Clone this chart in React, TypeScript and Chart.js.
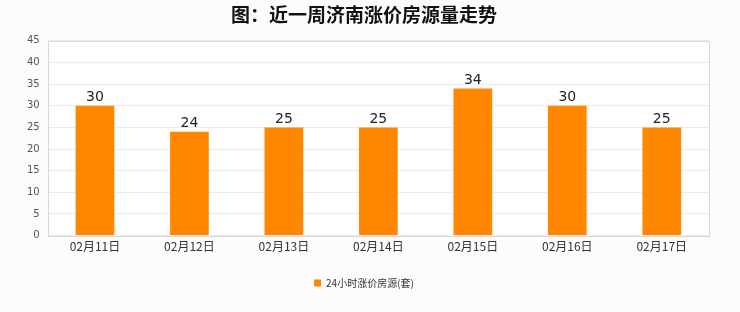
import React, { useEffect, useRef } from "react";
import { Chart, registerables } from "chart.js";

Chart.register(...registerables);

const categories = ["02月11日", "02月12日", "02月13日", "02月14日", "02月15日", "02月16日", "02月17日"];
const values = [30, 24, 25, 25, 34, 30, 25];
const seriesName = "24小时涨价房源(套)";
const titleText = "图：近一周济南涨价房源量走势";

const valueLabels = {
  id: "valueLabels",
  afterDatasetsDraw(chart: any) {
    const ctx = chart.ctx;
    const meta = chart.getDatasetMeta(0);
    ctx.save();
    ctx.font = "14px 'DejaVu Sans', sans-serif";
    ctx.fillStyle = "#222";
    ctx.textAlign = "center";
    ctx.textBaseline = "bottom";
    meta.data.forEach((bar: any, i: number) => {
      ctx.fillText(String(values[i]), bar.x, bar.y - 1);
    });
    ctx.restore();
  },
};

const bgPlugin = {
  id: "bg",
  beforeDraw(chart: any) {
    const ctx = chart.ctx;
    ctx.save();
    ctx.fillStyle = "#fcfcfc";
    ctx.fillRect(0, 0, chart.width, chart.height);
    const a = chart.chartArea;
    ctx.fillStyle = "#ffffff";
    ctx.fillRect(a.left, a.top, a.right - a.left, a.bottom - a.top);
    ctx.restore();
  },
  afterDraw(chart: any) {
    const ctx = chart.ctx;
    const a = chart.chartArea;
    ctx.save();
    ctx.strokeStyle = "#d8d8d8";
    ctx.lineWidth = 1;
    ctx.strokeRect(Math.round(a.left) + 0.5, Math.round(a.top) + 0.5, Math.round(a.right - a.left), Math.round(a.bottom - a.top));
    ctx.restore();
  },
};

export default function App() {
  const ref = useRef<HTMLCanvasElement>(null);
  useEffect(() => {
    document.body.style.margin = "0";
    const chart = new Chart(ref.current!, {
      type: "bar",
      data: {
        labels: categories,
        datasets: [
          {
            label: seriesName,
            data: values,
            backgroundColor: "#ff8800",
            borderWidth: 0,
            categoryPercentage: 1,
            barPercentage: 0.41,
          },
        ],
      },
      options: {
        animation: false,
        responsive: false,
        layout: { padding: { left: 19, right: 31, top: 3, bottom: 14 } },
        plugins: {
          title: {
            display: true,
            text: titleText,
            font: { size: 19, weight: "bold", family: "'Noto Sans CJK SC', sans-serif" },
            color: "#111",
            padding: { top: 0, bottom: 15 },
          },
          legend: {
            position: "bottom",
            labels: {
              boxWidth: 7,
              boxHeight: 7,
              color: "#333",
              font: { size: 10, family: "'Noto Sans CJK SC', sans-serif" },
              padding: 20,
            },
          },
          tooltip: { enabled: false },
        },
        scales: {
          x: {
            grid: { display: false, drawTicks: false },
            border: { display: false },
            ticks: { color: "#333", font: { size: 12, family: "'Noto Sans CJK SC', sans-serif" }, padding: 4 },
          },
          y: {
            min: 0,
            max: 45,
            ticks: { stepSize: 5, color: "#555", font: { size: 10, family: "'DejaVu Sans', sans-serif" }, padding: 8 },
            grid: { color: "#ebebeb", drawTicks: false },
            border: { display: false },
          },
        },
      },
      plugins: [bgPlugin, valueLabels],
    });
    return () => chart.destroy();
  }, []);
  return <canvas ref={ref} width={740} height={312} style={{ display: "block" }} />;
}
